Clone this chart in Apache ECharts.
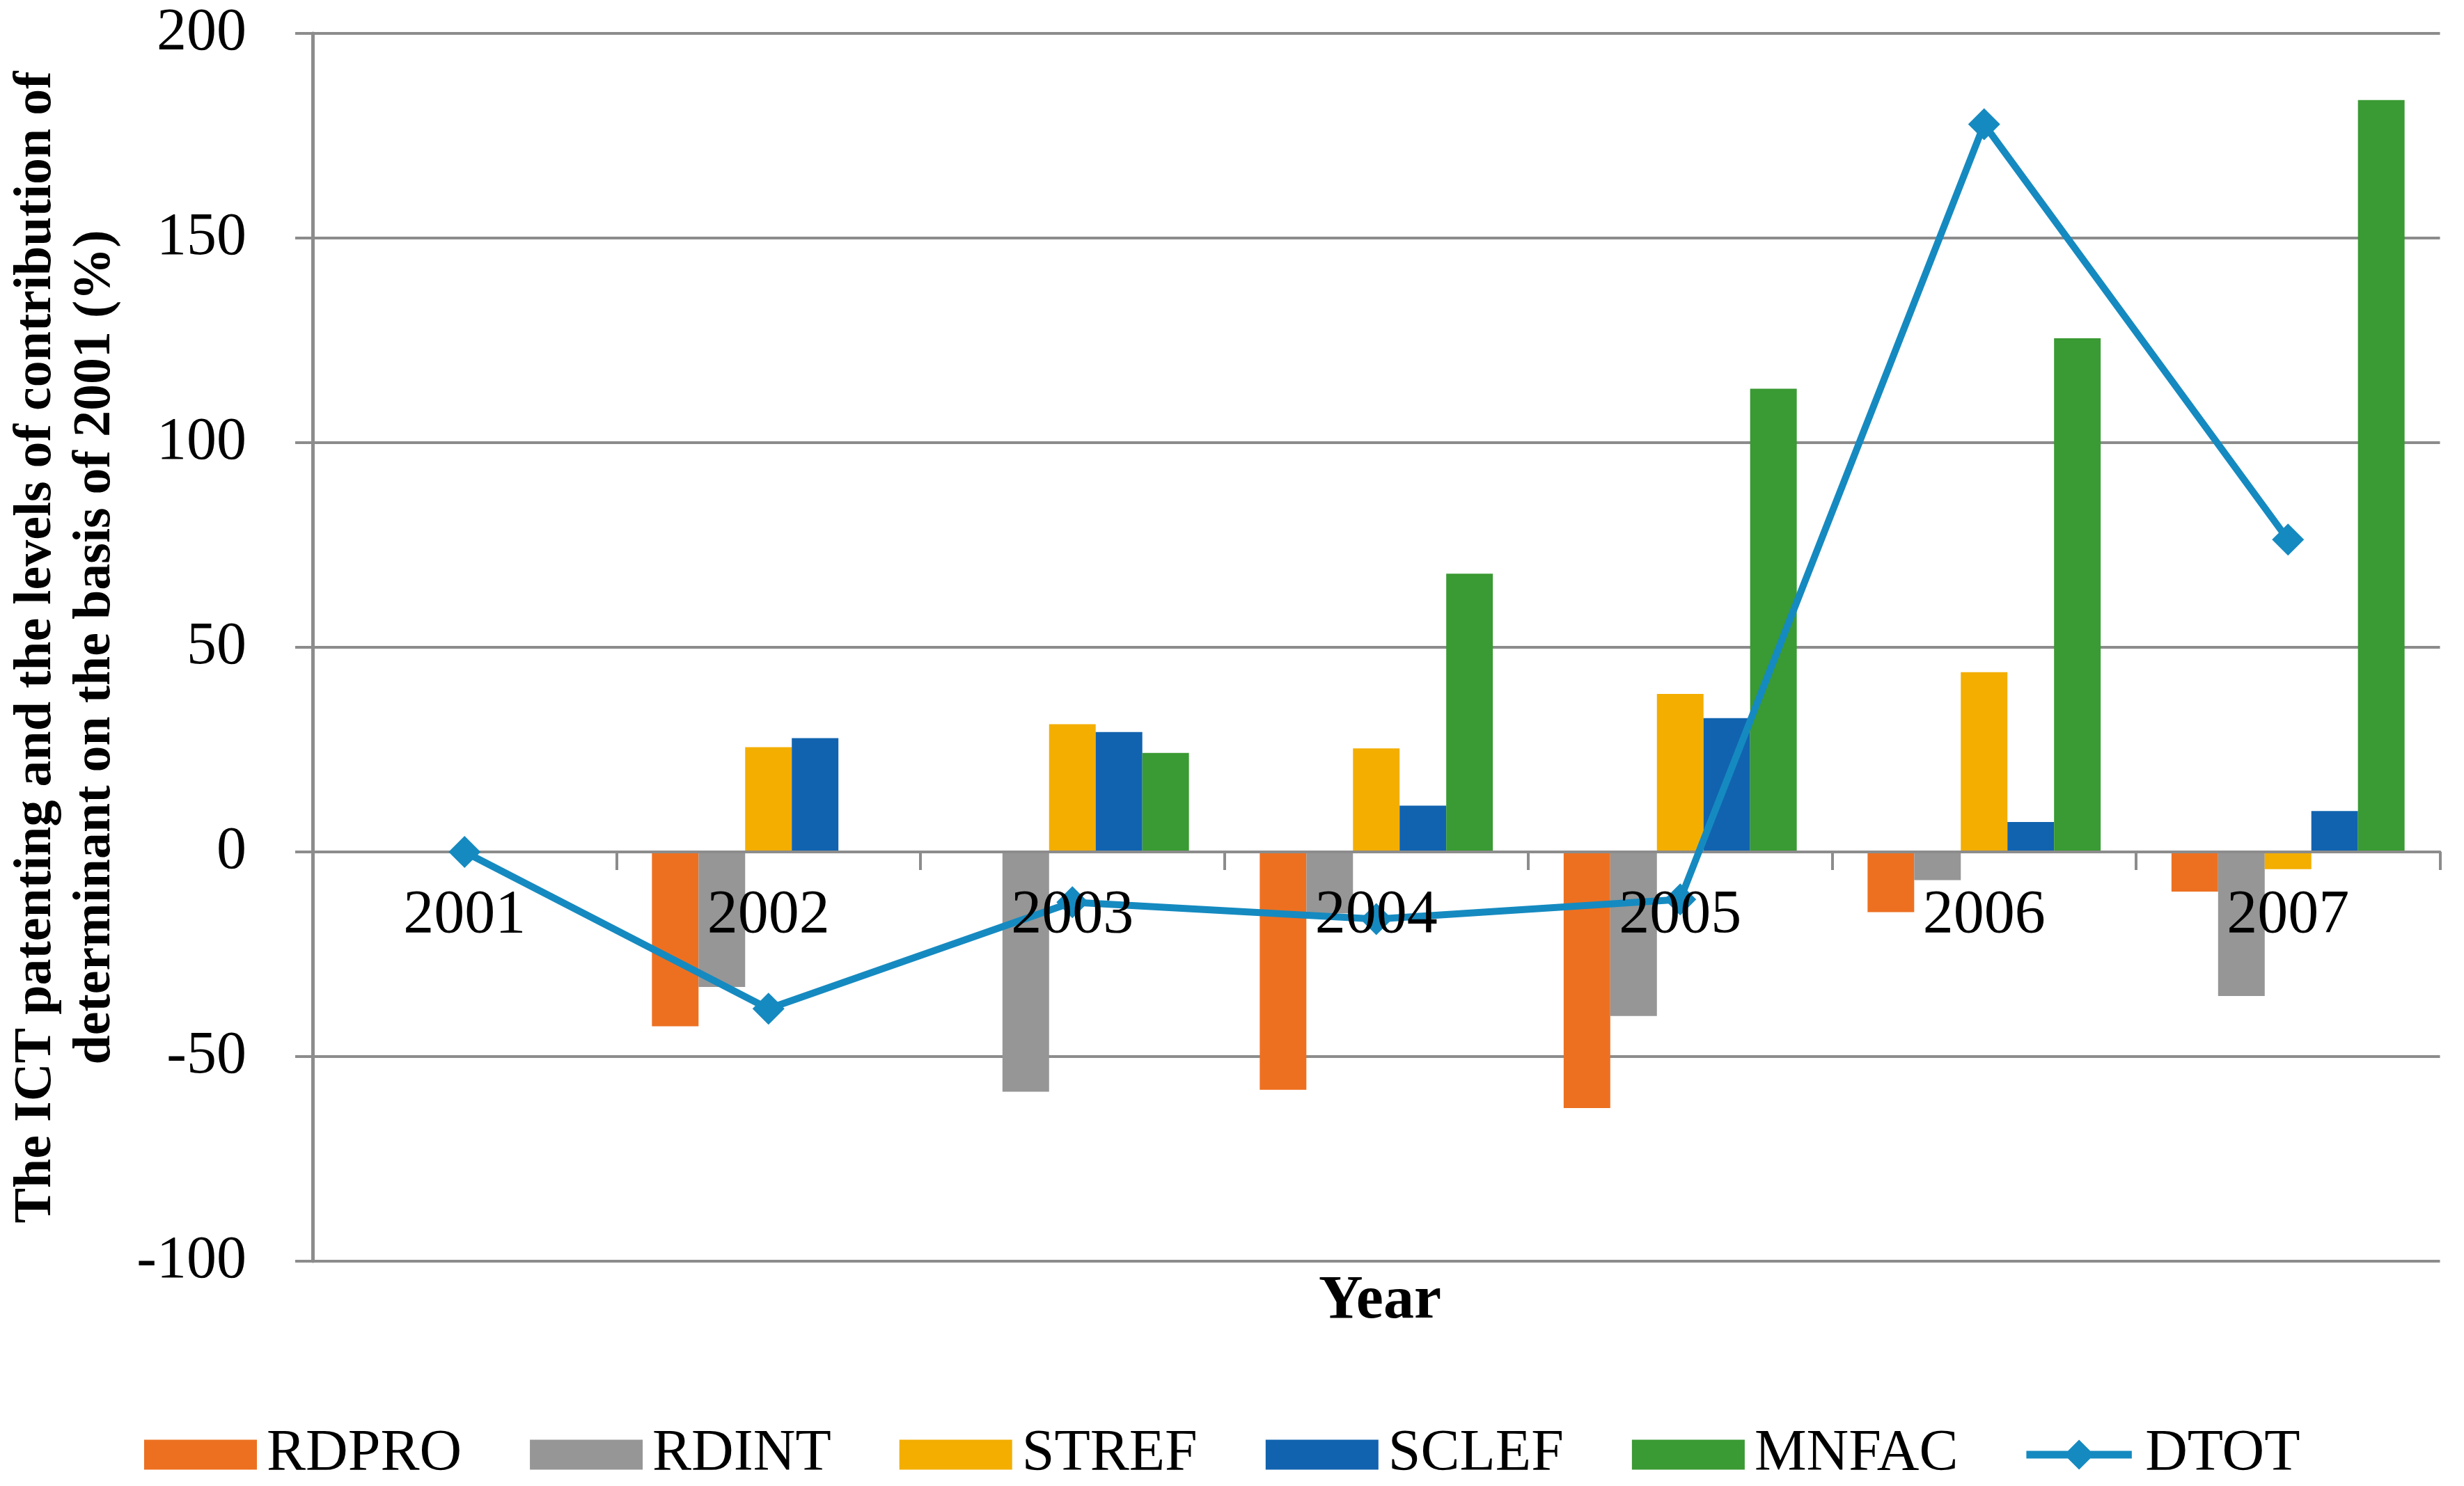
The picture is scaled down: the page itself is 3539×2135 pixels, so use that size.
<!DOCTYPE html>
<html>
<head>
<meta charset="utf-8">
<script src="https://cdn.jsdelivr.net/npm/echarts@6/dist/echarts.min.js"></script>
<style>
html,body{margin:0;padding:0;background:#ffffff;}
#chart{width:3539px;height:2135px;}
</style>
</head>
<body>
<div id="chart"></div>
<script>
// ---- data ----
const years = ['2001', '2002', '2003', '2004', '2005', '2006', '2007'];
const RDPRO = [0, -42.6, 0, -58.1, -62.6, -14.7, -9.7];
const RDINT = [0, -33.0, -58.6, -15.0, -40.1, -6.9, -35.2];
const STREF = [0, 25.6, 31.2, 25.3, 38.6, 43.9, -4.2];
const SCLEF = [0, 27.8, 29.3, 11.3, 32.7, 7.3, 10.0];
const MNFAC = [0, 0, 24.2, 68.0, 113.2, 125.5, 183.7];
const DTOT = [0, -38.3, -12.3, -16.4, -11.6, 177.8, 76.3];
const yTicks = [-100, -50, 0, 50, 100, 150, 200];

const FONT = '"Liberation Serif", "Times New Roman", serif';
const GRID_COLOR = '#8C8C8C';
const colors = {
  RDPRO: '#ED7021',
  RDINT: '#969696',
  STREF: '#F3AE00',
  SCLEF: '#1163AF',
  MNFAC: '#3A9A33',
  DTOT: '#158AC0'
};

// plot box
const GRID_TOP = 48, GRID_BOTTOM = 323, CHART_H = 2135;
const yMin = yTicks[0], yMax = yTicks[yTicks.length - 1];
// distance from plot bottom up to the zero line (label axis is lifted there)
const plotH = CHART_H - GRID_TOP - GRID_BOTTOM;
const zeroLift = plotH * (0 - yMin) / (yMax - yMin);

const chart = echarts.init(document.getElementById('chart'), null, {renderer: 'canvas'});

function barSeries(name, data) {
  return {
    name: name,
    type: 'bar',
    data: data,
    xAxisIndex: 0,
    yAxisIndex: 0,
    barGap: '0%',
    barCategoryGap: '23.3%',
    itemStyle: {color: colors[name]},
    z: 2
  };
}

// legend icon for the line series: thick line with a diamond on it
const lineDiamondIcon = 'path://M0,17H162V29H0Z M81,0L104,23L81,46L58,23Z';

const option = {
  animation: false,
  backgroundColor: '#ffffff',
  grid: {left: 449, right: 34.5, top: GRID_TOP, bottom: GRID_BOTTOM, containLabel: false},
  xAxis: [
    {
      type: 'category',
      data: years,
      position: 'bottom',
      boundaryGap: true,
      z: 3,
      axisLine: {show: true, onZero: true, lineStyle: {color: GRID_COLOR, width: 4}},
      axisTick: {show: true, length: 26, inside: false, lineStyle: {color: GRID_COLOR, width: 4}},
      axisLabel: {show: false},
      splitLine: {show: false}
    },
    {
      type: 'category',
      data: years,
      position: 'bottom',
      offset: -zeroLift,
      boundaryGap: true,
      z: 6,
      axisLine: {show: false, onZero: false},
      axisTick: {show: false},
      axisLabel: {show: true, margin: 48, fontSize: 88, fontFamily: FONT, color: '#000000'},
      splitLine: {show: false}
    }
  ],
  yAxis: {
    type: 'value',
    min: yMin,
    max: yMax,
    interval: yTicks[1] - yTicks[0],
    axisLine: {show: true, onZero: false, lineStyle: {color: GRID_COLOR, width: 5}},
    axisTick: {show: true, length: 25, lineStyle: {color: GRID_COLOR, width: 4}},
    splitLine: {show: true, lineStyle: {color: GRID_COLOR, width: 4}},
    axisLabel: {fontSize: 86, margin: 95, color: '#000000', fontFamily: FONT},
    name: 'The ICT patenting and the levels of contribution of\ndeterminant on the basis of 2001 (%)',
    nameLocation: 'middle',
    nameGap: 269,
    nameTextStyle: {fontSize: 76, lineHeight: 85, fontWeight: 'bold', fontFamily: FONT, color: '#000000', align: 'center'}
  },
  legend: {
    left: 202,
    top: 2043,
    itemWidth: 162,
    itemHeight: 43,
    itemGap: 98,
    textStyle: {fontSize: 84, fontFamily: FONT, color: '#000000', padding: [0, 0, 0, 9]},
    data: [
      {name: 'RDPRO', icon: 'rect'},
      {name: 'RDINT', icon: 'rect'},
      {name: 'STREF', icon: 'rect'},
      {name: 'SCLEF', icon: 'rect'},
      {name: 'MNFAC', icon: 'rect'},
      {name: 'DTOT', icon: lineDiamondIcon}
    ]
  },
  graphic: [
    {
      type: 'text',
      x: 1982,
      y: 1870,
      style: {
        text: 'Year',
        fontSize: 88,
        fontWeight: 'bold',
        fontFamily: FONT,
        fill: '#000000',
        align: 'center',
        verticalAlign: 'middle'
      }
    }
  ],
  series: [
    barSeries('RDPRO', RDPRO),
    barSeries('RDINT', RDINT),
    barSeries('STREF', STREF),
    barSeries('SCLEF', SCLEF),
    barSeries('MNFAC', MNFAC),
    {
      name: 'DTOT',
      type: 'line',
      data: DTOT,
      xAxisIndex: 0,
      yAxisIndex: 0,
      symbol: 'diamond',
      symbolSize: 46,
      showSymbol: true,
      lineStyle: {color: colors.DTOT, width: 10},
      itemStyle: {color: colors.DTOT},
      z: 4
    }
  ]
};

chart.setOption(option);
</script>
</body>
</html>
